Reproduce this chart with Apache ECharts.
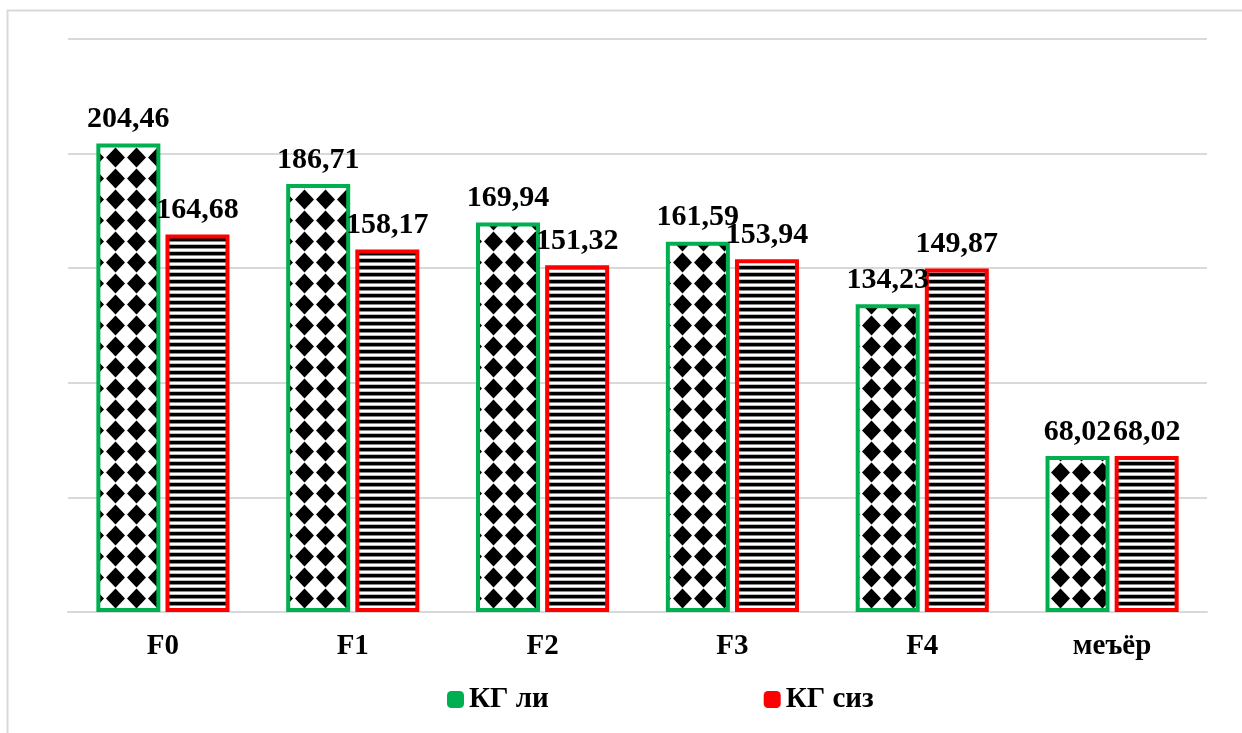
<!DOCTYPE html>
<html>
<head>
<meta charset="utf-8">
<script src="https://cdn.jsdelivr.net/npm/echarts@6/dist/echarts.min.js"></script>
<style>
  html, body { margin: 0; padding: 0; background: #fff; }
  #main { width: 1242px; height: 733px; }
</style>
</head>
<body>
<div id="main"></div>
<script>
// data
var categories = ['F0', 'F1', 'F2', 'F3', 'F4', 'меъёр'];
var seriesNames = ['КГ ли', 'КГ сиз'];
var valuesLi = [204.46, 186.71, 169.94, 161.59, 134.23, 68.02];
var valuesSiz = [164.68, 158.17, 151.32, 153.94, 149.87, 68.02];

// diamond pattern for first series
function makeDiamonds() {
  var c = document.createElement('canvas');
  c.width = 21; c.height = 21;
  var ctx = c.getContext('2d');
  ctx.fillStyle = '#fff';
  ctx.fillRect(0, 0, 21, 21);
  ctx.fillStyle = '#000';
  ctx.beginPath();
  ctx.moveTo(10.5, 0.5);
  ctx.lineTo(20, 10.5);
  ctx.lineTo(10.5, 20.5);
  ctx.lineTo(1, 10.5);
  ctx.closePath();
  ctx.fill();
  return c;
}

// horizontal stripes for second series
function makeStripes() {
  var c = document.createElement('canvas');
  c.width = 4; c.height = 7;
  var ctx = c.getContext('2d');
  ctx.fillStyle = '#fff';
  ctx.fillRect(0, 0, 4, 7);
  ctx.fillStyle = '#000';
  ctx.fillRect(0, 0, 4, 3);
  ctx.fillStyle = '#888';
  ctx.fillRect(0, 3, 4, 1);
  ctx.fillStyle = '#bbb';
  ctx.fillRect(0, 6, 4, 1);
  return c;
}

var font = '"Liberation Serif", "Times New Roman", serif';

var chart = echarts.init(document.getElementById('main'));

var labelStyle = {
  show: true,
  position: 'top',
  distance: 9,
  color: '#000',
  fontFamily: font,
  fontWeight: 'bold',
  fontSize: 30,
  formatter: function (p) { return p.value.toFixed(2).replace('.', ','); }
};

chart.setOption({
  animation: false,
  backgroundColor: '#fff',
  graphic: [{
    type: 'rect',
    left: 5, top: 8,
    shape: { width: 1300, height: 800 },
    style: { fill: 'none', stroke: '#d9d9d9', lineWidth: 2 },
    silent: true
  }],
  grid: { left: 68, right: 35, top: 39, bottom: 121 },
  legend: {
    left: 442,
    top: 680,
    itemGap: 215,
    itemWidth: 17,
    itemHeight: 17,
    icon: 'roundRect',
    textStyle: { color: '#000', fontFamily: font, fontWeight: 'bold', fontSize: 29 },
    data: [
      { name: seriesNames[0], itemStyle: { color: '#00b050', borderWidth: 0 } },
      { name: seriesNames[1], itemStyle: { color: '#ff0000', borderWidth: 0 } }
    ]
  },
  xAxis: {
    type: 'category',
    data: categories,
    axisLine: { lineStyle: { color: '#d9d9d9', width: 2 } },
    axisTick: { show: false },
    axisLabel: { color: '#000', fontFamily: font, fontWeight: 'bold', fontSize: 29, margin: 20 }
  },
  yAxis: {
    type: 'value',
    min: 0, max: 250, interval: 50,
    axisLabel: { show: false },
    axisLine: { show: false },
    axisTick: { show: false },
    splitLine: { lineStyle: { color: '#d9d9d9', width: 2 } }
  },
  series: [{
    name: seriesNames[0],
    type: 'bar',
    data: valuesLi,
    barWidth: 64,
    barGap: '8%',
    itemStyle: {
      color: { image: makeDiamonds(), repeat: 'repeat' },
      borderColor: '#00b050',
      borderWidth: 4
    },
    label: labelStyle
  }, {
    name: seriesNames[1],
    type: 'bar',
    data: valuesSiz,
    barWidth: 64,
    itemStyle: {
      color: { image: makeStripes(), repeat: 'repeat' },
      borderColor: '#ff0000',
      borderWidth: 4
    },
    label: labelStyle
  }]
});
</script>
</body>
</html>
